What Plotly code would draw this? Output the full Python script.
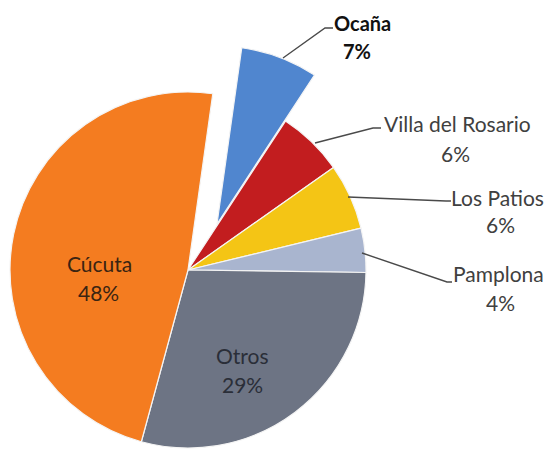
import plotly.graph_objects as go

W, H = 549, 452

labels = ["Ocaña", "Villa del Rosario", "Los Patios", "Pamplona", "Otros", "Cúcuta"]
values = [7, 6, 6, 4, 29, 48]
colors = ["#5086CF", "#C21D1F", "#F4C515", "#A9B5CF", "#6D7484", "#F47C20"]

# geometry (pixels)
R = 178
C_MAIN = (188, 270)
C_PULL = (217, 224)
ROT = 8

def dom(c):
    cx, cy = c
    return dict(x=[(cx - R) / W, (cx + R) / W], y=[1 - (cy + R) / H, 1 - (cy - R) / H])

clear = "rgba(0,0,0,0)"
main_colors = [clear] + colors[1:]
main_lines = [clear] + ["#F4F4F4"] * 5
pull_colors = [colors[0]] + [clear] * 5
pull_lines = ["#F4F4F4"] + [clear] * 5

fig = go.Figure()
fig.add_trace(go.Pie(labels=labels, values=values, sort=False, direction="clockwise",
                     rotation=ROT, domain=dom(C_MAIN), textinfo="none", showlegend=False,
                     marker=dict(colors=main_colors, line=dict(color=main_lines, width=1.2))))
fig.add_trace(go.Pie(labels=labels, values=values, sort=False, direction="clockwise",
                     rotation=ROT, domain=dom(C_PULL), textinfo="none", showlegend=False,
                     marker=dict(colors=pull_colors, line=dict(color=pull_lines, width=1.2))))

FONT = "Lato, 'Open Sans', sans-serif"
pct = [f"{v}%" for v in values]

# (label center px, percent center px, color, bold)
text_pos = [
    ((362, 23), (357, 51), "#111111", True),
    ((457, 124), (455, 153), "#404040", False),
    ((497, 197), (500, 225), "#404040", False),
    ((498, 273), (500, 302), "#404040", False),
    ((242, 355), (242, 384), "#2A2E38", False),
    ((99, 263), (98, 292), "#3A2412", False),
]
for lab, p, (lp, pp, col, bold) in zip(labels, pct, text_pos):
    for txt, (x, y) in ((lab, lp), (p, pp)):
        t = f"<b>{txt}</b>" if bold else txt
        fig.add_annotation(x=x / W, y=1 - y / H, xref="paper", yref="paper", text=t,
                           showarrow=False, xanchor="center", yanchor="middle",
                           font=dict(family=FONT, size=20 if bold else 21, color=col))

leaders = [
    [(283, 58), (325, 28), (333, 28)],
    [(315, 143), (373, 128), (381, 128)],
    [(348, 197), (446, 201), (451, 201)],
    [(362, 253), (447, 282), (452, 282)],
]
for pts in leaders:
    path = "M " + " L ".join(f"{x / W:.5f},{1 - y / H:.5f}" for x, y in pts)
    fig.add_shape(type="path", path=path, xref="paper", yref="paper",
                  line=dict(color="#4A4A4A", width=1.4))

fig.update_layout(width=W, height=H, margin=dict(l=0, r=0, t=0, b=0),
                  paper_bgcolor="white", plot_bgcolor="white")
fig.write_html("out.html")
